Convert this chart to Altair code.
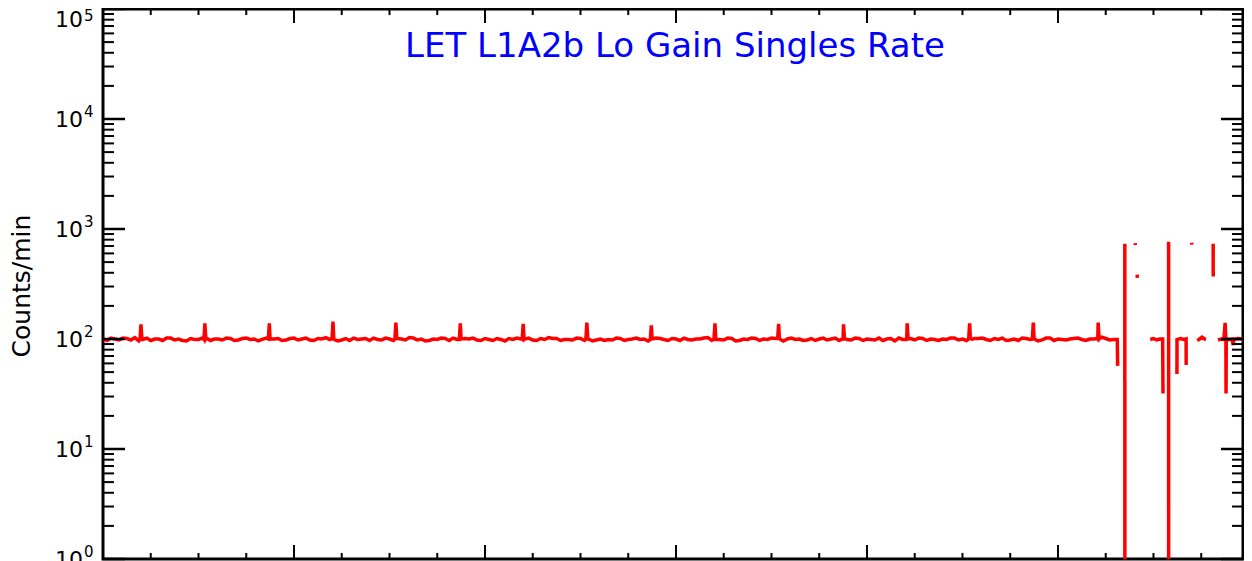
import altair as alt
import pandas as pd

TITLE = "LET L1A2b Lo Gain Singles Rate"
Y_TITLE = "Counts/min"

# ---- main quiet-time series (hours from start, counts/min) ----
base_hours = list(range(0, 128))
base_counts = [
    100, 102, 98, 101, 103, 99, 97, 100, 102, 98, 97, 101, 99, 102, 100, 98,
    101, 98, 102, 100, 99, 97, 101, 98, 102, 100, 98, 101, 103, 100, 98, 97,
    99, 101, 102, 98, 100, 101, 98, 102, 100, 97, 99, 101, 102, 98, 100, 98,
    101, 97, 99, 101, 102, 100, 98, 101, 103, 101, 99, 98, 101, 100, 98, 97,
    98, 101, 99, 102, 100, 98, 101, 97, 100, 102, 98, 100, 103, 100, 98, 101,
    97, 99, 101, 100, 102, 98, 100, 99, 97, 101, 100, 98, 102, 100, 98, 101,
    100, 98, 97, 101, 102, 100, 98, 101, 100, 97, 99, 102, 100, 98, 101, 99,
    101, 102, 98, 97, 101, 100, 98, 102, 100, 98, 101, 99, 100, 100, 101, 99,
]
half_hours = [h + 0.5 for h in range(0, 127)]
half_counts = [
    97, 100, 102, 98, 96, 102, 100, 97, 102, 100, 96, 99, 102, 97, 100, 102,
    97, 101, 99, 96, 102, 100, 97, 101, 98, 102, 97, 100, 99, 96, 101, 102,
    100, 97, 99, 102, 97, 100, 103, 98, 96, 100, 102, 97, 99, 101, 102, 97,
    99, 101, 96, 99, 100, 102, 97, 99, 101, 97, 99, 102, 97, 96, 100, 99,
    102, 97, 100, 99, 96, 102, 99, 101, 97, 99, 100, 102, 97, 99, 102, 96,
    100, 102, 97, 99, 101, 96, 102, 100, 98, 97, 102, 100, 97, 99, 102, 97,
    99, 102, 100, 96, 99, 101, 102, 97, 99, 100, 102, 98, 97, 101, 102, 97,
    99, 97, 100, 102, 99, 96, 102, 97, 99, 100, 102, 97, 100, 104, 98,
]

# periodic spikes
spike_hours = [4.77, 12.8, 20.9, 28.9, 36.8, 44.9, 52.8, 60.8,
               68.9, 76.9, 84.9, 93.05, 101.05, 108.9, 116.9, 125.05]
spike_peaks = [136, 139, 139, 144, 141, 139, 137, 141,
               133, 139, 137, 136, 139, 139, 141, 141]
spike_left = [100, 99, 100, 101, 100, 99, 100, 100, 99, 100, 101, 100, 99, 100, 100, 101]
spike_right = [99, 100, 100, 99, 101, 100, 99, 100, 100, 99, 100, 101, 100, 99, 100, 100]
spike_halfwidth = 0.12

# end of main segment (drop)
tail_hours = [127.45, 127.5]
tail_counts = [99, 57]

# disturbed interval: separate pieces
seg_hours = [
    [128.4, 128.41],
    [129.7, 129.72],
    [129.95, 129.97],
    [131.6, 132.0, 132.4, 132.8, 133.15, 133.2],
    [133.9, 133.91],
    [134.95, 134.96, 135.4, 135.8, 136.1, 136.11],
    [136.8, 136.82],
    [137.5, 137.8, 138.1, 138.4, 138.6],
    [139.5, 139.51],
    [140.1, 140.5, 140.85, 141.0, 141.1, 141.12, 141.15, 141.5,
     141.9, 142.0, 142.1, 142.6, 143.2, 143.7, 144.0],
]
seg_counts = [
    [735, 0.1],
    [745, 715],
    [385, 360],
    [99, 101, 98, 100, 100, 32],
    [765, 0.1],
    [48, 99, 101, 99, 100, 58],
    [750, 720],
    [97, 100, 104, 100, 99],
    [735, 370],
    [98, 100, 99, 140, 100, 32, 100, 99,
     100, 88, 99, 101, 100, 99, 100],
]

# axis ticks
x_range = [0, 143.25]
xtick_major = [24, 48, 72, 96, 120]
xtick_minor = [h for h in range(6, 144, 6) if h % 24 != 0]
ytick_major = [1, 10, 100, 1000, 10000, 100000]
ytick_exp = ["0", "1", "2", "3", "4", "5"]
ytick_minor = [m * 10 ** k for k in range(5) for m in range(2, 10)]

# ---- build tables ----
main_pts = list(zip(base_hours, base_counts)) + list(zip(half_hours, half_counts))
for t, p, l, r in zip(spike_hours, spike_peaks, spike_left, spike_right):
    main_pts += [(t - spike_halfwidth, l), (t, p), (t + spike_halfwidth, r)]
main_pts.sort(key=lambda q: q[0])
main_pts += list(zip(tail_hours, tail_counts))

rows = []
i = 0
for h, c in main_pts:
    rows.append({"h": h, "c": c, "seg": 0, "i": i})
    i += 1
for s, (hs, cs) in enumerate(zip(seg_hours, seg_counts), start=1):
    for h, c in zip(hs, cs):
        rows.append({"h": h, "c": c, "seg": s, "i": i})
        i += 1
df = pd.DataFrame(rows)

W, H = 1140, 550
xs = alt.Scale(domain=x_range, nice=False, zero=False)
ys = alt.Scale(type="log", domain=[1, 100000], nice=False)

line = alt.Chart(df).mark_line(color="#ff0000", strokeWidth=3.5, clip=True).encode(
    x=alt.X("h:Q", scale=xs, axis=None),
    y=alt.Y("c:Q", scale=ys, axis=None),
    detail="seg:N",
    order=alt.Order("i:Q"),
)

ymaj = pd.DataFrame({"v": ytick_major, "e": ytick_exp})
ymin = pd.DataFrame({"v": ytick_minor})
xmaj = pd.DataFrame({"t": xtick_major})
xmin = pd.DataFrame({"t": xtick_minor})

def yrule(data, x0, x1, sw):
    return alt.Chart(data).mark_rule(color="black", strokeWidth=sw).encode(
        y=alt.Y("v:Q", scale=ys, axis=None), x=alt.value(x0), x2=alt.value(x1))

def xrule(data, y0, y1, sw):
    return alt.Chart(data).mark_rule(color="black", strokeWidth=sw).encode(
        x=alt.X("t:Q", scale=xs, axis=None), y=alt.value(y0), y2=alt.value(y1))

ticks = [
    yrule(ymaj, 0, 22, 2.5), yrule(ymaj, W - 22, W, 2.5),
    yrule(ymin, 0, 11, 2), yrule(ymin, W - 11, W, 2),
    xrule(xmaj, H - 14, H, 2), xrule(xmin, H - 6, H, 2),
    xrule(xmaj, 0, 14, 2), xrule(xmin, 0, 6, 2),
]

FONT = "DejaVu Sans"
lab_base = alt.Chart(ymaj)
lab10 = lab_base.mark_text(align="right", baseline="middle", fontSize=22, font=FONT,
                           color="black", text="10", dy=1).encode(
    y=alt.Y("v:Q", scale=ys, axis=None), x=alt.value(-20)).transform_filter("datum.v < 100000")
labsup = lab_base.mark_text(align="left", baseline="middle", fontSize=15, font=FONT,
                            color="black", dy=-7).encode(
    y=alt.Y("v:Q", scale=ys, axis=None), x=alt.value(-19), text="e:N").transform_filter("datum.v < 100000")
lab10_top = lab_base.mark_text(align="right", baseline="middle", fontSize=22, font=FONT,
                               color="black", text="10", dy=11).encode(
    y=alt.Y("v:Q", scale=ys, axis=None), x=alt.value(-20)).transform_filter("datum.v >= 100000")
labsup_top = lab_base.mark_text(align="left", baseline="middle", fontSize=15, font=FONT,
                                color="black", dy=7).encode(
    y=alt.Y("v:Q", scale=ys, axis=None), x=alt.value(-19), text="e:N").transform_filter("datum.v >= 100000")

title = alt.Chart(pd.DataFrame({"t": [TITLE]})).mark_text(
    align="center", baseline="middle", fontSize=34, font=FONT, color="#0000ff").encode(
    x=alt.value(572), y=alt.value(38), text="t:N")
ytitle = alt.Chart(pd.DataFrame({"t": [Y_TITLE]})).mark_text(
    align="center", baseline="middle", fontSize=25, font=FONT, color="black", angle=270).encode(
    x=alt.value(-81), y=alt.value(277), text="t:N")

chart = alt.layer(line, *ticks, lab10, labsup, lab10_top, labsup_top, title, ytitle).properties(
    width=W, height=H,
    padding={"left": 95, "top": 1, "right": 1, "bottom": 2},
    autosize=alt.AutoSizeParams(type="none"),
).configure_view(stroke="black", strokeWidth=3)

chart.save("out.html", embed_options={"renderer": "svg", "actions": False})
